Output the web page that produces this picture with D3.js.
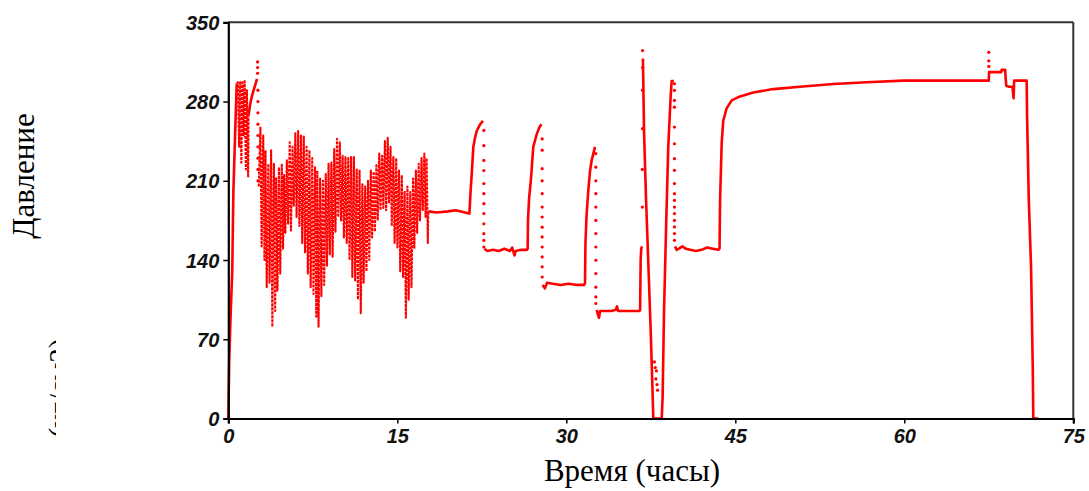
<!DOCTYPE html>
<html>
<head>
<meta charset="utf-8">
<script src="https://cdn.jsdelivr.net/npm/d3@7/dist/d3.min.js"></script>
<style>
  html, body { margin: 0; padding: 0; background: #fff; }
  svg { display: block; }
</style>
</head>
<body>
<svg id="chart" width="1089" height="491"></svg>
<script>
// ---- Tick labels ----
const xTicks = [0, 15, 30, 45, 60, 75];
const yTicks = [0, 70, 140, 210, 280, 350];

// ---- Continuous trace (hours, pressure); null = gap where the record is dotted ----
const traceHours = [0, 0.08, 0.2, 0.35, 0.45, 0.6, 0.75,
  1.8, 1.95, 2.1, 2.25, 2.4, 2.55, 2.6, 2.7,
  17.75, 18.5, 19.5, 20.2, 21.0, 21.4,
  21.5, 21.6, 21.75, 21.9, 22.05, 22.3, 22.6, 22.65,
  22.72, 23.0, 23.5, 24.0, 24.5, 25.0, 25.2, 25.4, 25.5, 26.0, 26.5,
  26.57, 26.6, 26.7, 26.85, 27.07, 27.37, 27.6, 27.8, 27.85,
  27.9, 28.1, 28.3, 28.8, 29.5, 30.2, 31.0, 31.6,
  31.66, 31.7, 31.8, 31.95, 32.1, 32.25, 32.55, 32.6,
  32.7, 32.8, 32.9, 33.0, 33.5, 34.0, 34.4, 34.5, 34.6, 35.5, 36.5,
  36.55, 36.6, 36.65, 36.72, 36.75,
  36.8, 36.9, 37.07, 37.28, 37.49, 37.67, 37.72, 38.47, 38.55, 38.67, 38.85, 39.05, 39.26, 39.35, 39.55, 39.58,
  39.65, 39.8, 40.0, 40.3, 40.6, 41.0, 41.5, 42.0, 42.5, 43.0, 43.5,
  43.6, 43.65, 43.79, 43.93, 44.23, 44.68, 45.42, 46.6, 48.37, 50.74, 53.7, 56.66, 59.91, 67.5,
  67.52, 68.6, 68.65, 68.95, 69.0, 69.05, 69.3, 69.6, 69.7, 69.75, 70.86,
  70.9, 71.05, 71.25, 71.4, 71.45, 71.9];
const tracePressure = [0, 50, 90, 130, 200, 250, 296,
  268, 278, 285, 290, 295, 300, null, 205,
  183, 182, 183, 184, 182, 181,
  200, 215, 240, 248, 254, 259, 263, null,
  150, 148, 149, 148, 150, 148, 151, 144, 148, 149, 149,
  150, 175, 195, 210, 240, 251, 257, 260, null,
  118, 115, 120, 119, 118, 119, 118, 118,
  120, 155, 180, 201, 218, 228, 240, null,
  96, 92, 89, 95, 95, 95, 96, 99, 95, 95, 95,
  96, 140, 150, 152, null,
  318, 254, 196, 137, 78, 19, 0, 0, 19, 93, 166, 240, 284, 298, 298, null,
  152, 149, 150, 152, 150, 149, 148, 149, 151, 150, 149,
  150, 193, 243, 263, 274, 281, 284.5, 288, 291, 293, 295.5, 297, 298.5, 298.5,
  306, 306, 308, 308, 300, 294, 293, 293, 283, 298.5, 298.5,
  266, 193, 134, 46, 0, 0];

// ---- Rapid pressure cycling: each cycle goes up to its high, then down to its low ----
const cycleHours = [0.85, 1.05, 1.25, 1.45, 1.65,
  2.85, 3.1, 3.3, 3.55, 3.8, 4.05, 4.25, 4.5, 4.75, 4.95, 5.2, 5.45, 5.7, 5.95, 6.2, 6.45, 6.7, 6.95,
  7.2, 7.45, 7.7, 7.9, 8.15, 8.4, 8.65, 8.9, 9.15, 9.4, 9.65, 9.9, 10.15, 10.4, 10.65, 10.9, 11.15,
  11.4, 11.65, 11.9, 12.15, 12.4, 12.65, 12.9, 13.15, 13.4, 13.65, 13.9, 14.15, 14.4, 14.65, 14.9,
  15.15, 15.4, 15.65, 15.9, 16.15, 16.4, 16.65, 16.9, 17.15, 17.4, 17.6];
const cycleHigh = [297, 298, 297, 298, 290,
  257, 250, 237, 225, 237, 225, 213, 222, 225, 215, 228, 244, 240, 252, 254, 250, 249, 240,
  237, 230, 222, 219, 212, 210, 216, 225, 226, 238, 247, 244, 232, 231, 230, 231, 231,
  220, 219, 207, 205, 210, 219, 218, 225, 234, 232, 245, 248, 240, 231, 230,
  219, 215, 201, 205, 200, 212, 219, 225, 230, 234, 230];
const cycleLow = [240, 226, 250, 220, 213,
  152, 140, 116, 120, 81, 95, 113, 128, 150, 164, 172, 166, 188, 178, 170, 155, 146, 128,
  116, 110, 90, 81, 108, 118, 135, 145, 143, 165, 178, 175, 160, 155, 140, 125, 122,
  105, 93, 120, 130, 140, 160, 165, 175, 184, 186, 184, 190, 170, 155, 151,
  130, 125, 89, 105, 116, 150, 164, 175, 184, 178, 155];

// ---- Isolated samples during fast transitions (drawn as dots) ----
const dotHours = [2.6, 2.6, 2.6, 2.63, 2.63, 2.63, 2.63, 2.63, 2.63, 2.63, 2.63, 2.63,
  22.68, 22.68, 22.68, 22.68, 22.68, 22.68, 22.68, 22.68, 22.68, 22.68, 22.68, 22.68,
  27.86, 27.86, 27.86, 27.86, 27.86, 27.86, 27.86, 27.86, 27.86, 27.86, 27.86, 27.86, 27.86,
  32.62, 32.62, 32.62, 32.62, 32.62, 32.62, 32.62, 32.62, 32.62, 32.62, 32.62, 32.62, 32.62,
  36.75, 36.75, 36.76, 36.76, 36.77, 36.77,
  37.82, 37.9, 37.95, 38.0, 38.05, 38.1,
  39.6, 39.6, 39.6, 39.6, 39.6, 39.6, 39.6, 39.6, 39.6, 39.6, 39.6, 39.6, 39.6, 39.6, 39.6, 39.6, 39.6,
  67.5, 67.5, 67.5];
const dotPressure = [315, 310, 305, 290, 280, 270, 260, 250, 240, 230, 220, 210,
  254.5, 241, 228, 219, 207.5, 198.6, 189.8, 181, 172, 163.3, 157.4, 151.5,
  247, 237, 220.7, 210, 198.6, 186.8, 178, 169, 160.4, 151.5, 142.7, 134, 125,
  234, 222, 210, 198.6, 186.8, 175, 163.4, 151.5, 139.8, 128, 116, 107.4, 101.6,
  186.8, 220, 256, 290, 310, 325,
  50, 45, 35, 42, 30, 25,
  295.7, 289.8, 281, 275, 257.4, 242.7, 229.5, 219.2, 207.5, 198.6, 192.7, 186.8, 181, 175, 169.2, 163.4, 157.4,
  323.5, 316, 311];

// ---- Labels ----
const yTitle = "Давление";
const yUnit = "(кг/см2)";
const xTitle = "Время (часы)";

// ---------------- drawing ----------------
const svg = d3.select("#chart");
const x = d3.scaleLinear().domain([0, 75]).range([228.3, 1073.3]);
const y = d3.scaleLinear().domain([0, 350]).range([418.5, 22.3]);

const tracePts = traceHours.map((t, i) => ({t, p: tracePressure[i]}));

const cyclePts = [];
cycleHours.forEach((t, i) => {
  cyclePts.push({t, p: cycleHigh[i]});
  cyclePts.push({t: t + 0.11, p: cycleLow[i]});
});

// frame (top & right)
svg.append("line").attr("x1", x(0)).attr("x2", x(75)).attr("y1", y(350)).attr("y2", y(350))
  .attr("stroke", "#333").attr("stroke-width", 2);
svg.append("line").attr("x1", x(75)).attr("x2", x(75)).attr("y1", y(350)).attr("y2", y(0))
  .attr("stroke", "#333").attr("stroke-width", 2);

const line = d3.line()
  .defined(d => d.p !== null)
  .x(d => x(d.t)).y(d => y(d.p));

// cycling blocks joined to the trace at their ends
const block1 = [tracePts[6], ...cyclePts.filter(d => d.t < 2), tracePts[7]];
const block2 = [tracePts[14], ...cyclePts.filter(d => d.t > 2), tracePts[15]];

const traceBroken = [];
tracePts.forEach((d, i) => {
  traceBroken.push(d);
  if (i === 6 || i === 14) traceBroken.push({t: d.t, p: null});
});
svg.append("path").datum(traceBroken)
  .attr("d", line)
  .attr("fill", "none")
  .attr("stroke", "#ff0000")
  .attr("stroke-width", 2.6)
  .attr("stroke-linejoin", "round");

[block1, block2].forEach(b => {
  svg.append("path").datum(b)
    .attr("d", line)
    .attr("fill", "none")
    .attr("stroke", "#ff0000")
    .attr("stroke-width", 2.1)
    .attr("stroke-dasharray", "3,1")
    .attr("stroke-linejoin", "round");
});

svg.append("g").selectAll("circle")
  .data(dotHours.map((t, i) => ({t, p: dotPressure[i]})))
  .join("circle")
  .attr("cx", d => x(d.t)).attr("cy", d => y(d.p))
  .attr("r", 1.6).attr("fill", "#ff0000");

// axes
const tickFont = (g) => g.selectAll("text")
  .attr("font-family", "Liberation Sans, Arial, sans-serif")
  .attr("font-weight", "bold").attr("font-style", "italic")
  .attr("font-size", 20).attr("fill", "#111");

const yAxis = svg.append("g").attr("transform", `translate(${x(0)},0)`)
  .call(d3.axisLeft(y).tickValues(yTicks).tickSize(5).tickPadding(4).tickFormat(d3.format("d")));
yAxis.select(".domain").attr("stroke", "#000").attr("stroke-width", 2.2);
yAxis.selectAll(".tick line").attr("stroke", "#000").attr("stroke-width", 1.5);
tickFont(yAxis);
yAxis.selectAll("text").attr("dy", "0.36em");

const xAxis = svg.append("g").attr("transform", `translate(0,${y(0)})`)
  .call(d3.axisBottom(x).tickValues(xTicks).tickSize(5).tickPadding(5).tickFormat(d3.format("d")));
xAxis.select(".domain").attr("stroke", "#000").attr("stroke-width", 2.2);
xAxis.selectAll(".tick line").attr("stroke", "#000").attr("stroke-width", 1.5);
tickFont(xAxis);

// titles
svg.append("text")
  .attr("transform", "translate(34,176) rotate(-90)")
  .attr("text-anchor", "middle")
  .attr("font-family", "Liberation Serif, Times New Roman, serif")
  .attr("font-size", 31).attr("fill", "#000")
  .text(yTitle);

svg.append("defs").append("clipPath").attr("id", "unitClip")
  .append("rect").attr("x", 0).attr("y", 300).attr("width", 56).attr("height", 160);
svg.append("g").attr("clip-path", "url(#unitClip)")
  .append("text")
  .attr("transform", "translate(69,388) rotate(-90)")
  .attr("text-anchor", "middle")
  .attr("font-family", "Liberation Serif, Times New Roman, serif")
  .attr("font-size", 29).attr("fill", "#000")
  .text(yUnit);

svg.append("text")
  .attr("x", 632).attr("y", 481)
  .attr("text-anchor", "middle")
  .attr("font-family", "Liberation Serif, Times New Roman, serif")
  .attr("font-size", 31).attr("fill", "#000")
  .text(xTitle);
</script>
</body>
</html>
